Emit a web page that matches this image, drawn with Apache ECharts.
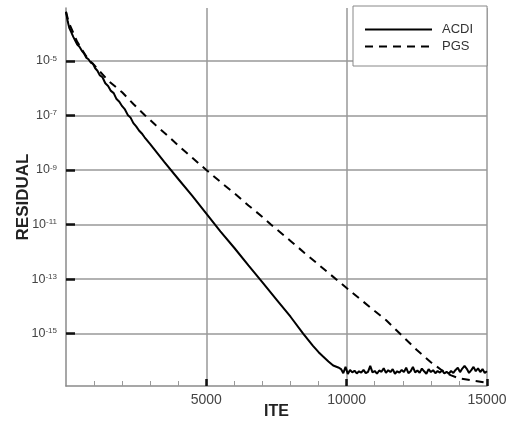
<!DOCTYPE html>
<html><head><meta charset="utf-8">
<script src="https://cdn.jsdelivr.net/npm/echarts@6/dist/echarts.min.js"></script>
<style>html,body{margin:0;padding:0;background:#fff}#c{width:511px;height:421px}</style>
</head><body><div id="c"></div><script>
// x-axis labelled ticks (iterations)
const xTickValues = [5000, 10000, 15000];
// y-axis labelled ticks, as exponents of 10
const yTickExponents = [-15, -13, -11, -9, -7, -5];
const seriesNames = ['ACDI', 'PGS'];

// ACDI: iteration and log10(residual)
const acdiIter = [0,60,120,190,260,330,400,480,560,640,720,800,880,960,1040,1120,1200,1300,1400,1500,1600,1700,1800,1900,2000,2100,2200,2300,2400,2500,2600,2700,2800,3000,3500,4000,4500,5000,5500,6000,6500,7000,7500,8000,8450,8800,9000,9160,9350,9520,9700,
9800,9880,9960,10000,10040,10120,10200,10280,10360,10440,10520,10600,10680,10760,10840,10920,11000,11080,11160,11240,11320,11400,11480,11560,11640,11720,11800,11880,11960,12040,12120,12200,12280,12360,12440,12520,12600,12680,12760,12840,12920,13000,13080,13160,13240,13320,13400,13480,13560,13640,13720,13800,13880,13960,14040,14120,14200,14280,14360,14440,14520,14600,14680,14760,14840,14920,15000];
const acdiLogRes = [-3.2,-3.55,-3.8,-3.95,-4.12,-4.18,-4.4,-4.48,-4.62,-4.72,-4.88,-4.94,-5.06,-5.1,-5.27,-5.36,-5.52,-5.6,-5.82,-5.92,-6.1,-6.18,-6.4,-6.5,-6.66,-6.78,-6.98,-7.08,-7.28,-7.4,-7.55,-7.66,-7.8,-8.05,-8.7,-9.33,-9.95,-10.6,-11.25,-11.86,-12.5,-13.12,-13.75,-14.38,-15.0,-15.45,-15.68,-15.84,-16.02,-16.17,-16.24,
-16.3,-16.45,-16.22,-16.16,-16.48,-16.33,-16.42,-16.36,-16.46,-16.38,-16.43,-16.33,-16.45,-16.4,-16.18,-16.42,-16.37,-16.47,-16.35,-16.4,-16.27,-16.44,-16.34,-16.41,-16.3,-16.47,-16.38,-16.43,-16.33,-16.41,-16.25,-16.45,-16.38,-16.22,-16.42,-16.35,-16.44,-16.28,-16.38,-16.47,-16.3,-16.41,-16.34,-16.45,-16.37,-16.43,-16.35,-16.46,-16.4,-16.47,-16.37,-16.44,-16.33,-16.25,-16.41,-16.28,-16.18,-16.29,-16.44,-16.34,-16.22,-16.38,-16.27,-16.41,-16.3,-16.44,-16.38];

// PGS: iteration and log10(residual)
const pgsIter = [0,100,250,400,550,700,850,1000,1200,1500,2000,2400,2800,3200,3600,4000,4500,5000,5600,6000,6500,7000,7300,8000,8500,9000,9500,10000,10500,11000,11400,12000,12500,13000,13400,13700,14000,14500,15000];
const pgsLogRes = [-3.2,-3.6,-3.95,-4.3,-4.55,-4.8,-5.0,-5.15,-5.38,-5.72,-6.15,-6.58,-6.98,-7.36,-7.72,-8.1,-8.55,-9.0,-9.52,-9.85,-10.3,-10.72,-11.0,-11.6,-12.04,-12.47,-12.9,-13.33,-13.75,-14.17,-14.5,-15.1,-15.6,-16.05,-16.35,-16.52,-16.64,-16.72,-16.8];

const FONT = '"Liberation Sans", Arial, Helvetica, sans-serif';
const zip = (xs, ys) => xs.map((x, i) => [x, ys[i]]);

const chart = echarts.init(document.getElementById('c'), null, {renderer: 'canvas'});
chart.setOption({
  animation: false,
  backgroundColor: '#fff',
  grid: {left: 66, right: 24, top: 8, bottom: 35, containLabel: false, outerBoundsMode: 'none'},
  legend: {
    orient: 'vertical', left: 353, top: 6,
    padding: [17, 14, 13, 11],
    itemWidth: 67, itemHeight: 14, itemGap: 4,
    backgroundColor: '#fff', borderColor: '#888', borderWidth: 1, borderRadius: 0,
    itemStyle: {opacity: 0},
    textStyle: {fontSize: 13, color: '#333', fontFamily: FONT, padding: [0, 0, 0, 5]},
    data: seriesNames
  },
  xAxis: {
    type: 'value', min: 0, max: 15000, interval: 5000,
    name: 'ITE', nameLocation: 'middle', nameGap: 18, nameMoveOverlap: false,
    nameTextStyle: {fontSize: 16, fontWeight: 'bold', color: '#222', fontFamily: FONT},
    axisLine: {show: true, onZero: false, lineStyle: {color: '#8a8a8a', width: 1.5}},
    axisTick: {show: true, inside: true, length: 7, lineStyle: {color: '#111', width: 2.5}, customValues: xTickValues},
    minorTick: {show: true, splitNumber: 5, length: 5, lineStyle: {color: '#999', width: 1}},
    axisLabel: {fontSize: 14, color: '#444', fontFamily: FONT, margin: 7, customValues: xTickValues,
      formatter: v => String(v)},
    splitLine: {show: true, showMinLine: true, showMaxLine: true, lineStyle: {color: '#999', width: 1.5}}
  },
  yAxis: {
    type: 'value', min: -16.92, max: -3.06,
    name: 'RESIDUAL', nameLocation: 'middle', nameGap: 34, nameRotate: 90, nameMoveOverlap: false,
    nameTextStyle: {fontSize: 17, fontWeight: 'bold', color: '#222', fontFamily: FONT},
    axisLine: {show: true, onZero: false, lineStyle: {color: '#8a8a8a', width: 1.5}},
    axisTick: {show: true, inside: true, length: 9, lineStyle: {color: '#111', width: 2.5}, customValues: yTickExponents},
    axisLabel: {
      margin: 9, customValues: yTickExponents,
      formatter: v => '{b|10}{s|' + v + '}',
      rich: {
        b: {fontSize: 12.5, color: '#444', fontFamily: FONT, verticalAlign: 'bottom', lineHeight: 13},
        s: {fontSize: 8, color: '#444', fontFamily: FONT, verticalAlign: 'top', lineHeight: 9, padding: [0, 0, 6, 0]}
      }
    },
    splitLine: {show: true, showMinLine: true, showMaxLine: true, lineStyle: {color: '#999', width: 1.5}}
  },
  series: [
    {name: seriesNames[0], type: 'line', data: zip(acdiIter, acdiLogRes), symbol: 'none', showSymbol: false,
     lineStyle: {color: '#000', width: 2}, itemStyle: {color: '#000'}, z: 3},
    {name: seriesNames[1], type: 'line', data: zip(pgsIter, pgsLogRes), symbol: 'none', showSymbol: false,
     lineStyle: {color: '#000', width: 2, type: [8, 6]}, itemStyle: {color: '#000'}, z: 2}
  ]
});
</script></body></html>
